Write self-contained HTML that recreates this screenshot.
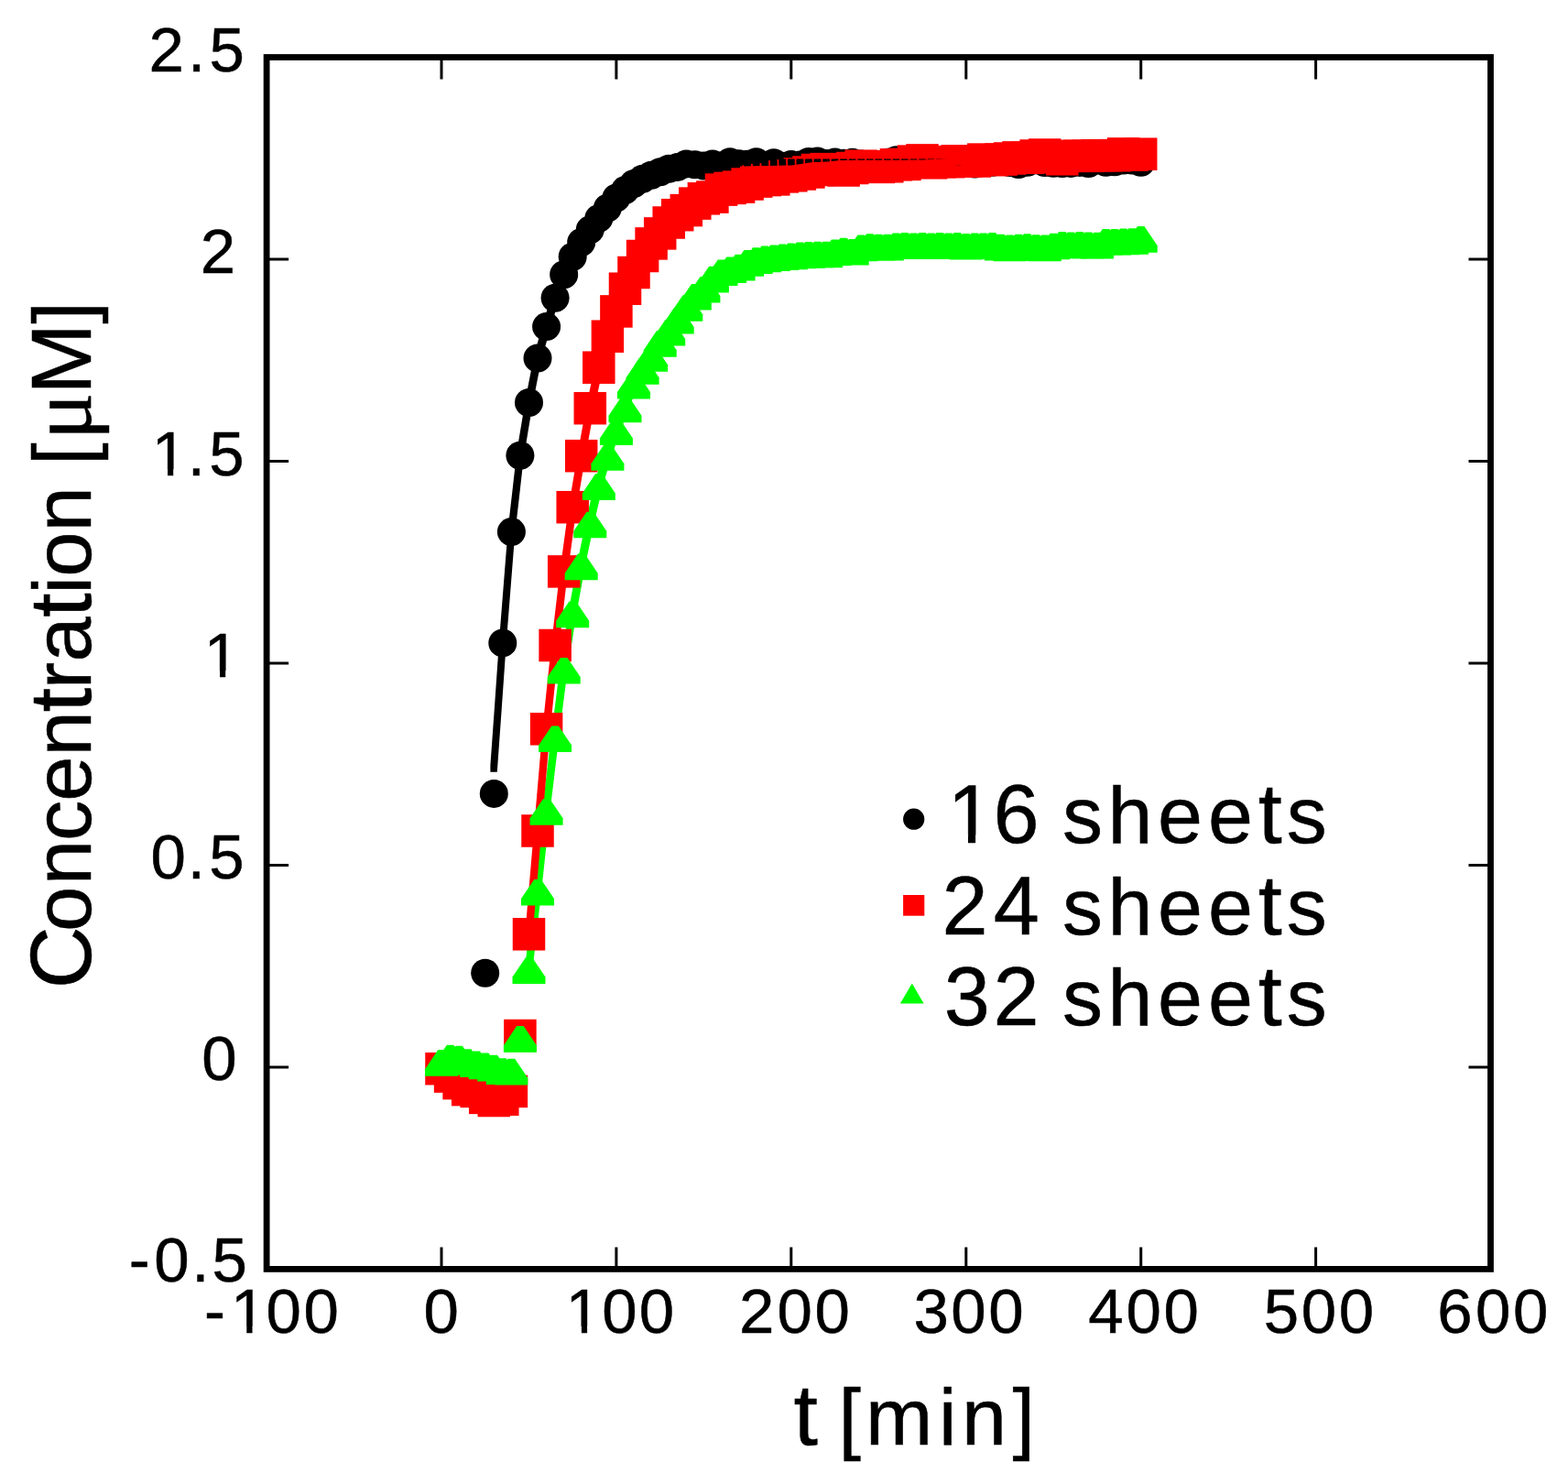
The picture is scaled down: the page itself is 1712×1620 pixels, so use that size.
<!DOCTYPE html>
<html><head><meta charset="utf-8"><title>Concentration vs time</title>
<style>html,body{margin:0;padding:0;background:#fff}svg{display:block}.t{font-family:"Liberation Sans",Arial,sans-serif;fill:#000;white-space:pre;stroke:#000;stroke-width:0.5px}</style></head><body>
<svg width="1712" height="1620" viewBox="0 0 1712 1620">
<defs><rect id="s" x="-17.75" y="-17.75" width="35.5" height="35.5" fill="#f00"/><circle id="c" r="15.5" fill="#000"/><path id="g" d="M-18 17.7V10.2L-3.75-10.9H3.75L18 10.2V17.7Z" fill="#0f0"/></defs>
<rect width="1712" height="1620" fill="#fff"/>
<path d="M573.6 1052.6L583.2 967L590.9 967L590.9 974.7L581.3 1060.3L573.6 1060.3ZM583.2 967L592.7 879.3L600.4 879.3L600.4 887L590.9 974.7L583.2 974.7ZM592.7 879.3L602.3 799.5L610 799.5L610 807.2L600.4 887L592.7 887ZM602.3 799.5L611.8 725L619.5 725L619.5 732.7L610 807.2L602.3 807.2ZM611.8 725L621.4 663.7L629.1 663.7L629.1 671.4L619.5 732.7L611.8 732.7ZM621.4 663.7L630.9 611.6L638.6 611.6L638.6 619.3L629.1 671.4L621.4 671.4ZM630.9 611.6L640.4 565.8L648.1 565.8L648.1 573.5L638.6 619.3L630.9 619.3ZM640.4 565.8L650 524.3L657.7 524.3L657.7 532L648.1 573.5L640.4 573.5ZM650 524.3L659.5 492.1L667.2 492.1L667.2 499.8L657.7 532L650 532ZM659.5 492.1L669.1 464.3L676.8 464.3L676.8 472L667.2 499.8L659.5 499.8ZM669.1 464.3L678.6 439.6L686.3 439.6L686.3 447.3L676.8 472L669.1 472ZM678.6 439.6L688.2 414.1L695.9 414.1L695.9 421.8L686.3 447.3L678.6 447.3ZM688.2 414.1L697.7 398.2L705.4 398.2L705.4 405.9L695.9 421.8L688.2 421.8ZM697.7 398.2L707.3 384.1L715 384.1L715 391.8L705.4 405.9L697.7 405.9ZM707.3 384.1L716.8 368.1L724.5 368.1L724.5 375.8L715 391.8L707.3 391.8ZM716.8 368.1L726.4 355.9L734.1 355.9L734.1 363.6L724.5 375.8L716.8 375.8ZM726.4 355.9L735.9 342.9L743.6 342.9L743.6 350.6L734.1 363.6L726.4 363.6ZM735.9 342.9L745.4 329.2L753.1 329.2L753.1 336.9L743.6 350.6L735.9 350.6ZM745.4 329.2L755 317.1L762.7 317.1L762.7 324.8L753.1 336.9L745.4 336.9ZM755 317.1L764.5 308.9L772.2 308.9L772.2 316.6L762.7 324.8L755 324.8ZM764.5 308.9L774.1 297.8L781.8 297.8L781.8 305.5L772.2 316.6L764.5 316.6ZM774.1 297.8L783.6 290.4L791.3 290.4L791.3 298.1L781.8 305.5L774.1 305.5ZM783.6 290.4L793.2 287.5L800.9 287.5L800.9 295.2L791.3 298.1L783.6 298.1ZM793.2 287.5L802.7 284.9L810.4 284.9L810.4 292.6L800.9 295.2L793.2 295.2ZM802.7 284.9L812.3 280.1L820 280.1L820 287.8L810.4 292.6L802.7 292.6ZM812.3 280.1L821.8 277.4L829.5 277.4L829.5 285.1L820 287.8L812.3 287.8ZM821.8 277.4L831.4 275.6L839.1 275.6L839.1 283.3L829.5 285.1L821.8 285.1ZM831.4 275.6L840.9 274.5L848.6 274.5L848.6 282.2L839.1 283.3L831.4 283.3ZM840.9 274.5L850.4 273.4L858.1 273.4L858.1 281.1L848.6 282.2L840.9 282.2ZM850.4 273.4L860 272.7L867.7 272.7L867.7 280.4L858.1 281.1L850.4 281.1ZM860 272.7L869.5 271.8L877.2 271.8L877.2 279.5L867.7 280.4L860 280.4ZM869.5 271.8L879.1 270.9L886.8 270.9L886.8 278.6L877.2 279.5L869.5 279.5ZM879.1 270.9L888.6 270L896.3 270L896.3 277.7L886.8 278.6L879.1 278.6ZM888.6 270L898.2 269.1L905.9 269.1L905.9 276.8L896.3 277.7L888.6 277.7ZM898.2 269.1L907.7 268.2L915.4 268.2L915.4 275.9L905.9 276.8L898.2 276.8ZM907.7 268.2L917.3 267.3L925 267.3L925 275L915.4 275.9L907.7 275.9ZM917.3 267.3L926.8 266.4L934.5 266.4L934.5 274.1L925 275L917.3 275ZM926.8 266.4L936.4 265.5L944.1 265.5L944.1 273.2L934.5 274.1L926.8 274.1ZM936.4 265.5L945.9 264.6L953.6 264.6L953.6 272.3L944.1 273.2L936.4 273.2ZM945.9 264.6L955.4 263.7L963.2 263.7L963.2 271.4L953.6 272.3L945.9 272.3ZM955.4 263.7L965 263.5L972.7 263.5L972.7 271.2L963.2 271.4L955.4 271.4ZM965 263.5L974.5 263.3L982.2 263.3L982.2 271L972.7 271.2L965 271.2ZM974.5 263.3L984.1 263L991.8 263L991.8 270.7L982.2 271L974.5 271ZM984.1 263L993.6 262.8L1001.3 262.8L1001.3 270.5L991.8 270.7L984.1 270.7ZM993.6 262.8L1003.2 262.6L1010.9 262.6L1010.9 270.3L1001.3 270.5L993.6 270.5ZM1003.2 262.6L1012.7 262.4L1020.4 262.4L1020.4 270.1L1010.9 270.3L1003.2 270.3ZM1012.7 262.4L1022.3 262.2L1030 262.2L1030 269.9L1020.4 270.1L1012.7 270.1ZM1022.3 262.2L1031.8 261.9L1039.5 261.9L1039.5 269.6L1030 269.9L1022.3 269.9ZM1031.8 261.9L1041.4 261.7L1049.1 261.7L1049.1 269.4L1039.5 269.6L1031.8 269.6ZM1041.4 261.7L1050.9 261.5L1058.6 261.5L1058.6 269.2L1049.1 269.4L1041.4 269.4ZM1050.9 261.5L1068.2 261.5L1068.2 269.2L1050.9 269.2ZM1060.5 261.5L1077.7 261.5L1077.7 269.2L1060.5 269.2ZM1070 261.5L1087.2 261.5L1087.2 269.2L1070 269.2ZM1079.5 261.5L1096.8 261.5L1096.8 269.2L1079.5 269.2ZM1089.1 261.5L1106.3 261.5L1106.3 269.2L1089.1 269.2ZM1098.6 261.5L1115.9 261.5L1115.9 269.2L1098.6 269.2ZM1108.2 261.5L1125.4 261.5L1125.4 269.2L1108.2 269.2ZM1117.7 261.5L1135 261.5L1135 269.2L1117.7 269.2ZM1127.3 261.5L1144.5 261.5L1144.5 269.2L1127.3 269.2ZM1136.8 261.5L1154.1 261.5L1154.1 269.2L1136.8 269.2ZM1146.4 261.5L1155.9 261.1L1163.6 261.1L1163.6 268.8L1154.1 269.2L1146.4 269.2ZM1155.9 261.1L1165.5 260.6L1173.2 260.6L1173.2 268.3L1163.6 268.8L1155.9 268.8ZM1165.5 260.6L1175 260.2L1182.7 260.2L1182.7 267.9L1173.2 268.3L1165.5 268.3ZM1175 260.2L1184.5 259.7L1192.2 259.7L1192.2 267.4L1182.7 267.9L1175 267.9ZM1184.5 259.7L1194.1 259.3L1201.8 259.3L1201.8 267L1192.2 267.4L1184.5 267.4ZM1194.1 259.3L1203.6 258.8L1211.3 258.8L1211.3 266.5L1201.8 267L1194.1 267ZM1203.6 258.8L1213.2 258.4L1220.9 258.4L1220.9 266.1L1211.3 266.5L1203.6 266.5ZM1213.2 258.4L1222.7 258L1230.4 258L1230.4 265.7L1220.9 266.1L1213.2 266.1ZM1222.7 258L1232.3 257.5L1240 257.5L1240 265.2L1230.4 265.7L1222.7 265.7ZM1232.3 257.5L1241.8 257.1L1249.5 257.1L1249.5 264.8L1240 265.2L1232.3 265.2Z" fill="#0f0"/>
<g><use href="#c" x="529.7" y="1062.2"/><use href="#c" x="539.3" y="866.4"/><use href="#c" x="548.8" y="701.9"/><use href="#c" x="558.4" y="580.6"/><use href="#c" x="567.9" y="497.3"/><use href="#c" x="577.5" y="439.5"/><use href="#c" x="587" y="391"/><use href="#c" x="596.6" y="356.6"/><use href="#c" x="606.1" y="325.3"/><use href="#c" x="615.7" y="299.7"/><use href="#c" x="625.2" y="280.3"/><use href="#c" x="634.7" y="264.5"/><use href="#c" x="644.3" y="250.8"/><use href="#c" x="653.8" y="238.4"/><use href="#c" x="663.4" y="227"/><use href="#c" x="672.9" y="216"/><use href="#c" x="682.5" y="207.6"/><use href="#c" x="692" y="200.5"/><use href="#c" x="701.6" y="195.2"/><use href="#c" x="711.1" y="191.3"/><use href="#c" x="720.7" y="187.7"/><use href="#c" x="730.2" y="184.2"/><use href="#c" x="739.7" y="182.4"/><use href="#c" x="749.3" y="178.9"/><use href="#c" x="758.8" y="179.7"/><use href="#c" x="768.4" y="181.1"/><use href="#c" x="777.9" y="179.1"/><use href="#c" x="787.5" y="181.1"/><use href="#c" x="797" y="176.7"/><use href="#c" x="806.6" y="178.7"/><use href="#c" x="816.1" y="179.2"/><use href="#c" x="825.7" y="176.8"/><use href="#c" x="835.2" y="180.5"/><use href="#c" x="844.8" y="177.7"/><use href="#c" x="854.3" y="181.2"/><use href="#c" x="863.8" y="179.4"/><use href="#c" x="873.4" y="180"/><use href="#c" x="882.9" y="176.4"/><use href="#c" x="892.5" y="175.9"/><use href="#c" x="902" y="178.6"/><use href="#c" x="911.6" y="177"/><use href="#c" x="921.1" y="178.3"/><use href="#c" x="930.7" y="177.3"/><use href="#c" x="940.2" y="178.9"/><use href="#c" x="949.8" y="180.1"/><use href="#c" x="959.3" y="180.2"/><use href="#c" x="968.8" y="177.2"/><use href="#c" x="978.4" y="174.7"/><use href="#c" x="987.9" y="177.3"/><use href="#c" x="997.5" y="178.2"/><use href="#c" x="1007" y="175"/><use href="#c" x="1016.6" y="177.1"/><use href="#c" x="1026.1" y="177.2"/><use href="#c" x="1035.7" y="176.9"/><use href="#c" x="1045.2" y="177.4"/><use href="#c" x="1054.8" y="177.6"/><use href="#c" x="1064.3" y="179"/><use href="#c" x="1073.8" y="176.5"/><use href="#c" x="1083.4" y="177.2"/><use href="#c" x="1092.9" y="175.5"/><use href="#c" x="1102.5" y="177.6"/><use href="#c" x="1112" y="179.6"/><use href="#c" x="1121.6" y="177.2"/><use href="#c" x="1131.1" y="174.8"/><use href="#c" x="1140.7" y="177.6"/><use href="#c" x="1150.2" y="178.2"/><use href="#c" x="1159.8" y="178.6"/><use href="#c" x="1169.3" y="178.4"/><use href="#c" x="1178.9" y="177.4"/><use href="#c" x="1188.4" y="178.6"/><use href="#c" x="1197.9" y="175"/><use href="#c" x="1207.5" y="177.3"/><use href="#c" x="1217" y="176.8"/><use href="#c" x="1226.6" y="175.1"/><use href="#c" x="1236.1" y="175"/><use href="#c" x="1245.7" y="177.2"/></g>
<path d="M535.4 835.3L540.4 765.4L547.8 765.4L547.8 772.8L542.8 842.7L535.4 842.7ZM540.4 765.4L545.1 698.2L552.5 698.2L552.5 705.6L547.8 772.8L540.4 772.8ZM545.1 698.2L549.9 637.6L557.3 637.6L557.3 645L552.5 705.6L545.1 705.6ZM549.9 637.6L554.7 576.9L562.1 576.9L562.1 584.3L557.3 645L549.9 645ZM554.7 576.9L559.5 535.3L566.9 535.3L566.9 542.7L562.1 584.3L554.7 584.3ZM559.5 535.3L564.2 493.6L571.6 493.6L571.6 501L566.9 542.7L559.5 542.7ZM564.2 493.6L569 464.7L576.4 464.7L576.4 472.1L571.6 501L564.2 501ZM569 464.7L573.8 435.8L581.2 435.8L581.2 443.2L576.4 472.1L569 472.1ZM573.8 435.8L578.5 411.6L585.9 411.6L585.9 419L581.2 443.2L573.8 443.2ZM578.5 411.6L583.3 387.3L590.7 387.3L590.7 394.7L585.9 419L578.5 419ZM583.3 387.3L588.1 370.1L595.5 370.1L595.5 377.5L590.7 394.7L583.3 394.7ZM588.1 370.1L592.9 352.9L600.3 352.9L600.3 360.3L595.5 377.5L588.1 377.5ZM592.9 352.9L597.6 337.3L605 337.3L605 344.7L600.3 360.3L592.9 360.3ZM597.6 337.3L602.4 321.6L609.8 321.6L609.8 329L605 344.7L597.6 344.7ZM602.4 321.6L607.2 308.8L614.6 308.8L614.6 316.2L609.8 329L602.4 329ZM607.2 308.8L612 296L619.4 296L619.4 303.4L614.6 316.2L607.2 316.2ZM612 296L616.7 286.3L624.1 286.3L624.1 293.7L619.4 303.4L612 303.4ZM616.7 286.3L621.5 276.6L628.9 276.6L628.9 284L624.1 293.7L616.7 293.7ZM621.5 276.6L626.3 268.7L633.7 268.7L633.7 276.1L628.9 284L621.5 284ZM626.3 268.7L631 260.8L638.4 260.8L638.4 268.2L633.7 276.1L626.3 276.1ZM631 260.8L635.8 253.9L643.2 253.9L643.2 261.3L638.4 268.2L631 268.2ZM635.8 253.9L640.6 247.1L648 247.1L648 254.5L643.2 261.3L635.8 261.3ZM640.6 247.1L645.4 240.9L652.8 240.9L652.8 248.3L648 254.5L640.6 254.5ZM645.4 240.9L650.1 234.7L657.5 234.7L657.5 242.1L652.8 248.3L645.4 248.3ZM650.1 234.7L654.9 229L662.3 229L662.3 236.4L657.5 242.1L650.1 242.1ZM654.9 229L659.7 223.3L667.1 223.3L667.1 230.7L662.3 236.4L654.9 236.4ZM659.7 223.3L664.5 217.8L671.9 217.8L671.9 225.2L667.1 230.7L659.7 230.7ZM664.5 217.8L669.2 212.3L676.6 212.3L676.6 219.7L671.9 225.2L664.5 225.2ZM669.2 212.3L674 208.1L681.4 208.1L681.4 215.5L676.6 219.7L669.2 219.7ZM674 208.1L678.8 203.9L686.2 203.9L686.2 211.3L681.4 215.5L674 215.5ZM678.8 203.9L683.5 200.4L690.9 200.4L690.9 207.8L686.2 211.3L678.8 211.3ZM683.5 200.4L688.3 196.8L695.7 196.8L695.7 204.2L690.9 207.8L683.5 207.8ZM688.3 196.8L693.1 194.2L700.5 194.2L700.5 201.6L695.7 204.2L688.3 204.2ZM693.1 194.2L697.9 191.5L705.3 191.5L705.3 198.9L700.5 201.6L693.1 201.6ZM697.9 191.5L702.6 189.5L710 189.5L710 196.9L705.3 198.9L697.9 198.9ZM702.6 189.5L707.4 187.6L714.8 187.6L714.8 195L710 196.9L702.6 196.9ZM707.4 187.6L712.2 185.8L719.6 185.8L719.6 193.2L714.8 195L707.4 195ZM712.2 185.8L717 184L724.4 184L724.4 191.4L719.6 193.2L712.2 193.2ZM717 184L721.7 182.3L729.1 182.3L729.1 189.7L724.4 191.4L717 191.4ZM721.7 182.3L726.5 180.5L733.9 180.5L733.9 187.9L729.1 189.7L721.7 189.7ZM726.5 180.5L731.3 179.6L738.7 179.6L738.7 187L733.9 187.9L726.5 187.9ZM731.3 179.6L736 178.7L743.4 178.7L743.4 186.1L738.7 187L731.3 187ZM736 178.7L740.8 177.9L748.2 177.9L748.2 185.3L743.4 186.1L736 186.1ZM740.8 177.9L745.6 177L753 177L753 184.4L748.2 185.3L740.8 185.3ZM745.6 177L750.4 176.7L757.8 176.7L757.8 184.1L753 184.4L745.6 184.4ZM750.4 176.7L755.1 176.4L762.5 176.4L762.5 183.8L757.8 184.1L750.4 184.1ZM755.1 176.4L759.9 176.2L767.3 176.2L767.3 183.6L762.5 183.8L755.1 183.8ZM759.9 176.2L764.7 175.9L772.1 175.9L772.1 183.3L767.3 183.6L759.9 183.6ZM764.7 175.9L769.5 175.6L776.9 175.6L776.9 183L772.1 183.3L764.7 183.3Z" fill="#000"/>
<g><use href="#s" x="482" y="1166.7"/><use href="#s" x="491.6" y="1175.1"/><use href="#s" x="501.1" y="1182.6"/><use href="#s" x="510.7" y="1189.6"/><use href="#s" x="520.2" y="1191.4"/><use href="#s" x="529.7" y="1198.4"/><use href="#s" x="539.3" y="1201.5"/><use href="#s" x="548.8" y="1200.2"/><use href="#s" x="558.4" y="1191.4"/><use href="#s" x="567.9" y="1130.5"/><use href="#s" x="577.5" y="1019.8"/><use href="#s" x="587" y="907"/><use href="#s" x="596.6" y="795.8"/><use href="#s" x="606.1" y="704.5"/><use href="#s" x="615.7" y="623.9"/><use href="#s" x="625.2" y="553.7"/><use href="#s" x="634.7" y="497.7"/><use href="#s" x="644.3" y="445.7"/><use href="#s" x="653.8" y="401.2"/><use href="#s" x="663.4" y="367.2"/><use href="#s" x="672.9" y="339.9"/><use href="#s" x="682.5" y="315.2"/><use href="#s" x="692" y="297.5"/><use href="#s" x="701.6" y="279.5"/><use href="#s" x="711.1" y="265.9"/><use href="#s" x="720.7" y="254.9"/><use href="#s" x="730.2" y="243"/><use href="#s" x="739.7" y="234.7"/><use href="#s" x="749.3" y="229.6"/><use href="#s" x="758.8" y="222.1"/><use href="#s" x="768.4" y="216.8"/><use href="#s" x="777.9" y="215.1"/><use href="#s" x="787.5" y="207.1"/><use href="#s" x="797" y="205.4"/><use href="#s" x="806.6" y="204.1"/><use href="#s" x="816.1" y="201"/><use href="#s" x="825.7" y="198.1"/><use href="#s" x="835.2" y="196.6"/><use href="#s" x="844.8" y="195.9"/><use href="#s" x="854.3" y="192.9"/><use href="#s" x="863.8" y="191.8"/><use href="#s" x="873.4" y="190"/><use href="#s" x="882.9" y="188"/><use href="#s" x="892.5" y="185.5"/><use href="#s" x="902" y="184.6"/><use href="#s" x="911.6" y="185.1"/><use href="#s" x="921.1" y="186"/><use href="#s" x="930.7" y="183.5"/><use href="#s" x="940.2" y="181.2"/><use href="#s" x="949.8" y="182"/><use href="#s" x="959.3" y="182.4"/><use href="#s" x="968.8" y="181.8"/><use href="#s" x="978.4" y="179.8"/><use href="#s" x="987.9" y="179.4"/><use href="#s" x="997.5" y="176.1"/><use href="#s" x="1007" y="174.9"/><use href="#s" x="1016.6" y="177.8"/><use href="#s" x="1026.1" y="176.7"/><use href="#s" x="1035.7" y="176.7"/><use href="#s" x="1045.2" y="175.8"/><use href="#s" x="1054.8" y="175.8"/><use href="#s" x="1064.3" y="176"/><use href="#s" x="1073.8" y="174.1"/><use href="#s" x="1083.4" y="174.7"/><use href="#s" x="1092.9" y="174.1"/><use href="#s" x="1102.5" y="173"/><use href="#s" x="1112" y="171.9"/><use href="#s" x="1121.6" y="172.3"/><use href="#s" x="1131.1" y="170"/><use href="#s" x="1140.7" y="169"/><use href="#s" x="1150.2" y="171.9"/><use href="#s" x="1159.8" y="173.8"/><use href="#s" x="1169.3" y="170.3"/><use href="#s" x="1178.9" y="170.3"/><use href="#s" x="1188.4" y="170.3"/><use href="#s" x="1197.9" y="169.7"/><use href="#s" x="1207.5" y="169.7"/><use href="#s" x="1217" y="169.7"/><use href="#s" x="1226.6" y="167.9"/><use href="#s" x="1236.1" y="169.2"/><use href="#s" x="1245.7" y="168.2"/></g>
<path d="M774.1 179.3L781.8 178.7M783.6 178.7L791.4 178.4M793.1 178.4L800.9 178.2M802.7 178.2L810.4 178M812.2 178L820 177.8M821.8 177.8L829.5 177.6M831.3 177.6L839.1 177.4M840.9 177.4L848.6 177.3M850.4 177.3L858.2 177.1M860 177.1L867.7 177M869.5 177L877.3 177M879.1 177L886.8 177M888.6 177L896.4 177M898.2 177L905.9 177M907.7 177L915.4 177M917.2 177L925 177M926.8 177L934.5 177M936.3 177L944.1 177M945.9 177L953.6 177M955.4 177L963.2 177M965 177L972.7 177M974.5 177L982.3 177M984.1 177L991.8 177M993.6 177L1001.4 177M1003.2 177L1010.9 177M1012.7 177L1020.4 177M1022.2 177L1030 177M1031.8 177L1039.5 177M1041.3 177L1049.1 177" stroke="#000" stroke-width="7" fill="none"/>
<path d="M573.6 1016L583.2 903.1L590.9 903.1L590.9 910.8L581.3 1023.7L573.6 1023.7ZM583.2 903.1L592.7 792L600.4 792L600.4 799.7L590.9 910.8L583.2 910.8ZM592.7 792L602.3 700.7L610 700.7L610 708.4L600.4 799.7L592.7 799.7ZM602.3 700.7L611.8 620L619.5 620L619.5 627.7L610 708.4L602.3 708.4ZM611.8 620L621.4 549.9L629.1 549.9L629.1 557.6L619.5 627.7L611.8 627.7ZM621.4 549.9L630.9 493.9L638.6 493.9L638.6 501.6L629.1 557.6L621.4 557.6ZM630.9 493.9L640.4 441.9L648.1 441.9L648.1 449.6L638.6 501.6L630.9 501.6ZM640.4 441.9L650 397.3L657.7 397.3L657.7 405L648.1 449.6L640.4 449.6ZM650 397.3L659.5 363.4L667.2 363.4L667.2 371.1L657.7 405L650 405ZM659.5 363.4L669.1 336L676.8 336L676.8 343.7L667.2 371.1L659.5 371.1ZM669.1 336L678.6 311.3L686.3 311.3L686.3 319L676.8 343.7L669.1 343.7ZM678.6 311.3L688.2 293.7L695.9 293.7L695.9 301.4L686.3 319L678.6 319ZM688.2 293.7L697.7 275.6L705.4 275.6L705.4 283.3L695.9 301.4L688.2 301.4ZM697.7 275.6L707.3 262L715 262L715 269.7L705.4 283.3L697.7 283.3ZM707.3 262L716.8 251.1L724.5 251.1L724.5 258.8L715 269.7L707.3 269.7ZM716.8 251.1L726.4 239.1L734.1 239.1L734.1 246.8L724.5 258.8L716.8 258.8ZM726.4 239.1L735.9 230.8L743.6 230.8L743.6 238.5L734.1 246.8L726.4 246.8ZM735.9 230.8L745.4 225.8L753.1 225.8L753.1 233.5L743.6 238.5L735.9 238.5ZM745.4 225.8L755 218.3L762.7 218.3L762.7 226L753.1 233.5L745.4 233.5ZM755 218.3L764.5 212.1L772.2 212.1L772.2 219.8L762.7 226L755 226ZM764.5 212.1L769.3 210.1L777 210.1L777 217.8L772.2 219.8L764.5 219.8ZM769.3 210.1L774.1 208.1L781.8 208.1L781.8 215.8L777 217.8L769.3 217.8ZM774.1 208.1L778.9 206.2L786.6 206.2L786.6 213.9L781.8 215.8L774.1 215.8ZM778.9 206.2L783.6 204.2L791.3 204.2L791.3 211.9L786.6 213.9L778.9 213.9ZM783.6 204.2L788.4 202.7L796.1 202.7L796.1 210.4L791.3 211.9L783.6 211.9ZM788.4 202.7L793.2 201.2L800.9 201.2L800.9 208.9L796.1 210.4L788.4 210.4ZM793.2 201.2L797.9 199.8L805.6 199.8L805.6 207.5L800.9 208.9L793.2 208.9ZM797.9 199.8L802.7 198.3L810.4 198.3L810.4 206L805.6 207.5L797.9 207.5ZM802.7 198.3L807.5 196.8L815.2 196.8L815.2 204.5L810.4 206L802.7 206ZM807.5 196.8L812.3 195.3L820 195.3L820 203L815.2 204.5L807.5 204.5ZM812.3 195.3L817 194L824.7 194L824.7 201.7L820 203L812.3 203ZM817 194L821.8 192.7L829.5 192.7L829.5 200.4L824.7 201.7L817 201.7ZM821.8 192.7L826.6 191.4L834.3 191.4L834.3 199.1L829.5 200.4L821.8 200.4ZM826.6 191.4L831.4 190.1L839.1 190.1L839.1 197.8L834.3 199.1L826.6 199.1ZM831.4 190.1L836.1 188.7L843.8 188.7L843.8 196.4L839.1 197.8L831.4 197.8ZM836.1 188.7L840.9 187.4L848.6 187.4L848.6 195.1L843.8 196.4L836.1 196.4ZM840.9 187.4L845.7 186.1L853.4 186.1L853.4 193.8L848.6 195.1L840.9 195.1ZM845.7 186.1L850.4 184.8L858.1 184.8L858.1 192.5L853.4 193.8L845.7 193.8ZM850.4 184.8L855.2 183.4L862.9 183.4L862.9 191.1L858.1 192.5L850.4 192.5ZM855.2 183.4L860 182.1L867.7 182.1L867.7 189.8L862.9 191.1L855.2 191.1ZM860 182.1L864.8 180.8L872.5 180.8L872.5 188.5L867.7 189.8L860 189.8ZM864.8 180.8L869.5 179.8L877.2 179.8L877.2 187.5L872.5 188.5L864.8 188.5ZM869.5 179.8L874.3 179L882 179L882 186.7L877.2 187.5L869.5 187.5ZM874.3 179L879.1 178.2L886.8 178.2L886.8 185.9L882 186.7L874.3 186.7ZM879.1 178.2L883.9 177.5L891.6 177.5L891.6 185.2L886.8 185.9L879.1 185.9ZM883.9 177.5L888.6 177.1L896.3 177.1L896.3 184.8L891.6 185.2L883.9 185.2ZM888.6 177.1L893.4 176.9L901.1 176.9L901.1 184.6L896.3 184.8L888.6 184.8ZM893.4 176.9L898.2 176.7L905.9 176.7L905.9 184.4L901.1 184.6L893.4 184.6ZM898.2 176.7L902.9 176.5L910.6 176.5L910.6 184.2L905.9 184.4L898.2 184.4ZM902.9 176.5L907.7 176L915.4 176L915.4 183.7L910.6 184.2L902.9 184.2ZM907.7 176L912.5 175.4L920.2 175.4L920.2 183.1L915.4 183.7L907.7 183.7ZM912.5 175.4L917.3 175.1L925 175.1L925 182.8L920.2 183.1L912.5 183.1ZM917.3 175.1L922 175L929.7 175L929.7 182.7L925 182.8L917.3 182.8ZM922 175L926.8 174.9L934.5 174.9L934.5 182.6L929.7 182.7L922 182.7ZM926.8 174.9L931.6 174.8L939.3 174.8L939.3 182.5L934.5 182.6L926.8 182.6ZM931.6 174.8L936.4 174.7L944.1 174.7L944.1 182.4L939.3 182.5L931.6 182.5ZM936.4 174.7L948.8 174.7L948.8 182.4L936.4 182.4ZM941.1 174.7L953.6 174.7L953.6 182.4L941.1 182.4ZM945.9 174.7L958.4 174.7L958.4 182.4L945.9 182.4ZM950.7 174.7L963.2 174.7L963.2 182.4L950.7 182.4ZM955.4 174.7L967.9 174.7L967.9 182.4L955.4 182.4ZM960.2 174.7L972.7 174.7L972.7 182.4L960.2 182.4ZM965 174.7L977.5 174.7L977.5 182.4L965 182.4ZM969.8 174.7L982.2 174.7L982.2 182.4L969.8 182.4ZM974.5 174.7L987 174.7L987 182.4L974.5 182.4ZM979.3 174.7L991.8 174.7L991.8 182.4L979.3 182.4ZM984.1 174.7L996.6 174.7L996.6 182.4L984.1 182.4ZM988.9 174.7L993.6 174.6L1001.3 174.6L1001.3 182.3L996.6 182.4L988.9 182.4ZM993.6 174.6L1006.1 174.6L1006.1 182.3L993.6 182.3ZM998.4 174.6L1010.9 174.6L1010.9 182.3L998.4 182.3ZM1003.2 174.6L1008 174.4L1015.7 174.4L1015.7 182.1L1010.9 182.3L1003.2 182.3ZM1008 174.4L1012.7 174.2L1020.4 174.2L1020.4 181.9L1015.7 182.1L1008 182.1ZM1012.7 174.2L1017.5 174L1025.2 174L1025.2 181.7L1020.4 181.9L1012.7 181.9ZM1017.5 174L1022.3 173.7L1030 173.7L1030 181.4L1025.2 181.7L1017.5 181.7ZM1022.3 173.7L1027 173.5L1034.7 173.5L1034.7 181.2L1030 181.4L1022.3 181.4ZM1027 173.5L1031.8 173.3L1039.5 173.3L1039.5 181L1034.7 181.2L1027 181.2ZM1031.8 173.3L1036.6 173.1L1044.3 173.1L1044.3 180.8L1039.5 181L1031.8 181ZM1036.6 173.1L1041.4 172.9L1049.1 172.9L1049.1 180.6L1044.3 180.8L1036.6 180.8ZM1041.4 172.9L1046.1 172.7L1053.8 172.7L1053.8 180.4L1049.1 180.6L1041.4 180.6ZM1046.1 172.7L1050.9 172.5L1058.6 172.5L1058.6 180.2L1053.8 180.4L1046.1 180.4ZM1050.9 172.5L1055.7 172.3L1063.4 172.3L1063.4 180L1058.6 180.2L1050.9 180.2ZM1055.7 172.3L1060.5 172.2L1068.2 172.2L1068.2 179.9L1063.4 180L1055.7 180ZM1060.5 172.2L1065.2 172L1072.9 172L1072.9 179.7L1068.2 179.9L1060.5 179.9ZM1065.2 172L1070 171.8L1077.7 171.8L1077.7 179.5L1072.9 179.7L1065.2 179.7ZM1070 171.8L1074.8 171.6L1082.5 171.6L1082.5 179.3L1077.7 179.5L1070 179.5ZM1074.8 171.6L1079.5 171.4L1087.2 171.4L1087.2 179.1L1082.5 179.3L1074.8 179.3ZM1079.5 171.4L1084.3 171.3L1092 171.3L1092 179L1087.2 179.1L1079.5 179.1ZM1084.3 171.3L1089.1 171.1L1096.8 171.1L1096.8 178.8L1092 179L1084.3 179ZM1089.1 171.1L1093.9 171L1101.6 171L1101.6 178.7L1096.8 178.8L1089.1 178.8ZM1093.9 171L1098.6 170.8L1106.3 170.8L1106.3 178.5L1101.6 178.7L1093.9 178.7ZM1098.6 170.8L1103.4 170.7L1111.1 170.7L1111.1 178.4L1106.3 178.5L1098.6 178.5ZM1103.4 170.7L1108.2 170.5L1115.9 170.5L1115.9 178.2L1111.1 178.4L1103.4 178.4ZM1108.2 170.5L1113 170.4L1120.7 170.4L1120.7 178.1L1115.9 178.2L1108.2 178.2ZM1113 170.4L1117.7 170.3L1125.4 170.3L1125.4 178L1120.7 178.1L1113 178.1ZM1117.7 170.3L1122.5 170.1L1130.2 170.1L1130.2 177.8L1125.4 178L1117.7 178ZM1122.5 170.1L1127.3 170L1135 170L1135 177.7L1130.2 177.8L1122.5 177.8ZM1127.3 170L1132 169.9L1139.7 169.9L1139.7 177.6L1135 177.7L1127.3 177.7ZM1132 169.9L1136.8 169.7L1144.5 169.7L1144.5 177.4L1139.7 177.6L1132 177.6ZM1136.8 169.7L1141.6 169.6L1149.3 169.6L1149.3 177.3L1144.5 177.4L1136.8 177.4ZM1141.6 169.6L1146.4 169.4L1154.1 169.4L1154.1 177.1L1149.3 177.3L1141.6 177.3ZM1146.4 169.4L1151.1 169.3L1158.8 169.3L1158.8 177L1154.1 177.1L1146.4 177.1ZM1151.1 169.3L1155.9 169.2L1163.6 169.2L1163.6 176.9L1158.8 177L1151.1 177ZM1155.9 169.2L1160.7 169L1168.4 169L1168.4 176.7L1163.6 176.9L1155.9 176.9ZM1160.7 169L1165.5 168.9L1173.2 168.9L1173.2 176.6L1168.4 176.7L1160.7 176.7ZM1165.5 168.9L1170.2 168.8L1177.9 168.8L1177.9 176.5L1173.2 176.6L1165.5 176.6ZM1170.2 168.8L1175 168.6L1182.7 168.6L1182.7 176.3L1177.9 176.5L1170.2 176.5ZM1175 168.6L1179.8 168.5L1187.5 168.5L1187.5 176.2L1182.7 176.3L1175 176.3ZM1179.8 168.5L1184.5 168.3L1192.2 168.3L1192.2 176L1187.5 176.2L1179.8 176.2ZM1184.5 168.3L1189.3 168.2L1197 168.2L1197 175.9L1192.2 176L1184.5 176ZM1189.3 168.2L1194.1 168.1L1201.8 168.1L1201.8 175.8L1197 175.9L1189.3 175.9ZM1194.1 168.1L1198.9 167.9L1206.6 167.9L1206.6 175.6L1201.8 175.8L1194.1 175.8ZM1198.9 167.9L1203.6 167.8L1211.3 167.8L1211.3 175.5L1206.6 175.6L1198.9 175.6ZM1203.6 167.8L1208.4 167.7L1216.1 167.7L1216.1 175.4L1211.3 175.5L1203.6 175.5ZM1208.4 167.7L1213.2 167.5L1220.9 167.5L1220.9 175.2L1216.1 175.4L1208.4 175.4ZM1213.2 167.5L1218 167.4L1225.7 167.4L1225.7 175.1L1220.9 175.2L1213.2 175.2ZM1218 167.4L1222.7 167.2L1230.4 167.2L1230.4 174.9L1225.7 175.1L1218 175.1ZM1222.7 167.2L1227.5 167.1L1235.2 167.1L1235.2 174.8L1230.4 174.9L1222.7 174.9ZM1227.5 167.1L1232.3 167L1240 167L1240 174.7L1235.2 174.8L1227.5 174.8ZM1232.3 167L1237 166.8L1244.7 166.8L1244.7 174.5L1240 174.7L1232.3 174.7ZM1237 166.8L1241.8 166.7L1249.5 166.7L1249.5 174.4L1244.7 174.5L1237 174.5Z" fill="#f00"/>
<g><use href="#g" x="482" y="1157"/><use href="#g" x="491.6" y="1151.7"/><use href="#g" x="501.1" y="1152.6"/><use href="#g" x="510.7" y="1156.1"/><use href="#g" x="520.2" y="1158.3"/><use href="#g" x="529.7" y="1160.5"/><use href="#g" x="539.3" y="1162.7"/><use href="#g" x="548.8" y="1166.2"/><use href="#g" x="558.4" y="1166.7"/><use href="#g" x="567.9" y="1131"/><use href="#g" x="577.5" y="1056.4"/><use href="#g" x="587" y="970.9"/><use href="#g" x="596.6" y="883.1"/><use href="#g" x="606.1" y="803.3"/><use href="#g" x="615.7" y="728.8"/><use href="#g" x="625.2" y="667.5"/><use href="#g" x="634.7" y="615.5"/><use href="#g" x="644.3" y="569.6"/><use href="#g" x="653.8" y="528.2"/><use href="#g" x="663.4" y="496"/><use href="#g" x="672.9" y="468.2"/><use href="#g" x="682.5" y="443.5"/><use href="#g" x="692" y="417.9"/><use href="#g" x="701.6" y="402"/><use href="#g" x="711.1" y="388"/><use href="#g" x="720.7" y="372"/><use href="#g" x="730.2" y="359.8"/><use href="#g" x="739.7" y="346.8"/><use href="#g" x="749.3" y="333.1"/><use href="#g" x="758.8" y="320.9"/><use href="#g" x="768.4" y="312.8"/><use href="#g" x="777.9" y="301.7"/><use href="#g" x="787.5" y="294.3"/><use href="#g" x="797" y="291.4"/><use href="#g" x="806.6" y="288.7"/><use href="#g" x="816.1" y="284"/><use href="#g" x="825.7" y="281.2"/><use href="#g" x="835.2" y="279.5"/><use href="#g" x="844.8" y="278.4"/><use href="#g" x="854.3" y="277.3"/><use href="#g" x="863.8" y="276.5"/><use href="#g" x="873.4" y="275.5"/><use href="#g" x="882.9" y="275"/><use href="#g" x="892.5" y="274.6"/><use href="#g" x="902" y="274.6"/><use href="#g" x="911.6" y="272.3"/><use href="#g" x="921.1" y="270.6"/><use href="#g" x="930.7" y="271.8"/><use href="#g" x="940.2" y="267.5"/><use href="#g" x="949.8" y="266.2"/><use href="#g" x="959.3" y="266.7"/><use href="#g" x="968.8" y="266.7"/><use href="#g" x="978.4" y="265.3"/><use href="#g" x="987.9" y="264.9"/><use href="#g" x="997.5" y="265.3"/><use href="#g" x="1007" y="264.9"/><use href="#g" x="1016.6" y="265.3"/><use href="#g" x="1026.1" y="264.9"/><use href="#g" x="1035.7" y="265.3"/><use href="#g" x="1045.2" y="264.9"/><use href="#g" x="1054.8" y="265.8"/><use href="#g" x="1064.3" y="265.3"/><use href="#g" x="1073.8" y="265.3"/><use href="#g" x="1083.4" y="264.9"/><use href="#g" x="1092.9" y="266.7"/><use href="#g" x="1102.5" y="267.5"/><use href="#g" x="1112" y="266.7"/><use href="#g" x="1121.6" y="266.2"/><use href="#g" x="1131.1" y="267.1"/><use href="#g" x="1140.7" y="267.5"/><use href="#g" x="1150.2" y="265.6"/><use href="#g" x="1159.8" y="264"/><use href="#g" x="1169.3" y="264.5"/><use href="#g" x="1178.9" y="264"/><use href="#g" x="1188.4" y="264.5"/><use href="#g" x="1197.9" y="264.7"/><use href="#g" x="1207.5" y="260.9"/><use href="#g" x="1217" y="260.9"/><use href="#g" x="1226.6" y="260.5"/><use href="#g" x="1236.1" y="260.1"/><use href="#g" x="1245.7" y="258"/></g>
<rect x="291.1" y="62.5" width="1336.4" height="1322.9" fill="none" stroke="#000" stroke-width="6.8"/>
<path d="M482 62.5V86.5M482 1385.4V1361.4M672.9 62.5V86.5M672.9 1385.4V1361.4M863.8 62.5V86.5M863.8 1385.4V1361.4M1054.8 62.5V86.5M1054.8 1385.4V1361.4M1245.7 62.5V86.5M1245.7 1385.4V1361.4M1436.6 62.5V86.5M1436.6 1385.4V1361.4M291.1 1164.9H315.1M1627.5 1164.9H1603.5M291.1 944.4H315.1M1627.5 944.4H1603.5M291.1 724H315.1M1627.5 724H1603.5M291.1 503.5H315.1M1627.5 503.5H1603.5M291.1 283H315.1M1627.5 283H1603.5" stroke="#000" stroke-width="3.0" fill="none"/>
<clipPath id="k"><path clip-rule="evenodd" d="M0 0H1712V1620H0ZM169.8 512.3H183V520.9H169.8ZM189.2 512.3H202.3V520.9H189.2ZM226.8 732.3H240V740.9H226.8ZM246.2 732.3H259.3V740.9H246.2ZM256.1 1448.1H269.3V1456.7H256.1ZM275.5 1448.1H288.6V1456.7H275.5ZM621.7 1448.1H634.9V1456.7H621.7ZM641.1 1448.1H654.2V1456.7H641.1ZM1039.9 911.6H1057V922.1H1039.9ZM1065.1 911.6H1082.2V922.1H1065.1Z"/></clipPath>
<g clip-path="url(#k)"><text class="t" y="77.9" font-size="69"><tspan x="162.4 205.1 228.4">2.5</tspan></text>
<text class="t" y="297.9" font-size="69"><tspan x="218.7">2</tspan></text>
<text class="t" y="518.9" font-size="69"><tspan x="165.7 204.7 228.3">1.5</tspan></text>
<text class="t" y="738.9" font-size="69"><tspan x="222.7">1</tspan></text>
<text class="t" y="958.9" font-size="69"><tspan x="164.4 204.7 228.3">0.5</tspan></text>
<text class="t" y="1178.8" font-size="69"><tspan x="220.2">0</tspan></text>
<text class="t" y="1398.9" font-size="69"><tspan x="140.8 168.2 209.2 231.4">-0.5</tspan></text>
<text class="t" y="1454.7" font-size="69"><tspan x="222.9 252 290.5 331.6">-100</tspan></text>
<text class="t" y="1454.7" font-size="69"><tspan x="462.4">0</tspan></text>
<text class="t" y="1454.7" font-size="69"><tspan x="617.6 657.2 697.8">100</tspan></text>
<text class="t" y="1454.7" font-size="69"><tspan x="806.9 848.6 889.6">200</tspan></text>
<text class="t" y="1454.7" font-size="69"><tspan x="997.4 1038.3 1079.3">300</tspan></text>
<text class="t" y="1454.7" font-size="69"><tspan x="1188.2 1229.6 1270.6">400</tspan></text>
<text class="t" y="1454.7" font-size="69"><tspan x="1379.7 1420.8 1461.8">500</tspan></text>
<text class="t" y="1454.7" font-size="69"><tspan x="1569.3 1611.1 1652.1">600</tspan></text>
<text class="t" y="1577.1" font-size="88"><tspan x="866.6" font-size="95">t</tspan><tspan x="891 915.6 945 1025.1 1050.1 1105.5"> [min]</tspan></text>
<text class="t" transform="rotate(-90)" y="98.8" font-size="88.5"><tspan x="-1079.2" font-size="94">C</tspan><tspan x="-1017 -966.3 -917.9 -874.7 -825.6">oncen</tspan><tspan x="-777.6" font-size="96">t</tspan><tspan x="-752.3 -722.5">ra</tspan><tspan x="-673.9" font-size="96">t</tspan><tspan x="-648.7 -629.7 -580.6 -540 -508">ion [</tspan><tspan x="-480" font-size="96" style="font-family:'Liberation Serif',serif">μ</tspan><tspan x="-430.8" font-size="93.3">M</tspan><tspan x="-353.8">]</tspan></text>
<text class="t" y="920.1" font-size="88"><tspan x="1034.5 1084.6" font-size="90">16</tspan><tspan x="1135 1160.1 1209.6 1264.1 1318.9"> shee</tspan><tspan x="1373.8" font-size="93.5">t</tspan><tspan x="1404.7">s</tspan></text>
<text class="t" y="1019.7" font-size="88"><tspan x="1028.6 1084.7" font-size="90">24</tspan><tspan x="1135 1160.1 1209.6 1264.1 1318.9"> shee</tspan><tspan x="1373.8" font-size="93.5">t</tspan><tspan x="1404.7">s</tspan></text>
<text class="t" y="1118.5" font-size="88"><tspan x="1030.8 1084.4" font-size="90">32</tspan><tspan x="1135 1160.1 1209.6 1264.1 1318.9"> shee</tspan><tspan x="1373.8" font-size="93.5">t</tspan><tspan x="1404.7">s</tspan></text></g>
<circle cx="997.7" cy="894.2" r="11.6" fill="#000"/>
<rect x="986.1" y="977" width="23.2" height="22.7" fill="#f00"/>
<path d="M982.9 1095.6H1008.6L995.8 1073.4Z" fill="#0f0"/>
</svg></body></html>
